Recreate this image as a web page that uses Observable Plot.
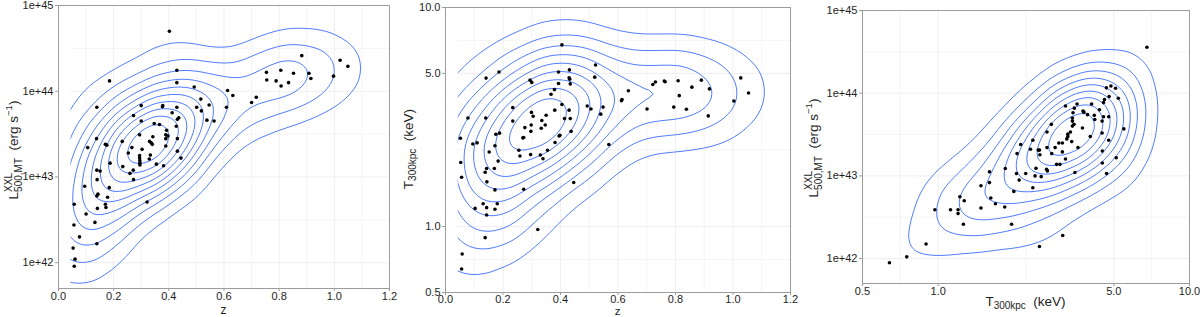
<!DOCTYPE html>
<html>
<head>
<meta charset="utf-8">
<script src="https://cdn.jsdelivr.net/npm/d3@7"></script>
<script src="https://cdn.jsdelivr.net/npm/@observablehq/plot@0.6"></script>
<style>
  body { margin: 0; background: #fff; }
  #row { display: flex; width: 1200px; height: 317px; overflow: hidden; }
  #row svg { display: block; flex: none; }
</style>
</head>
<body>
<div id="row"></div>
<script>
// ---------------- DATA ----------------
// Panel 1: redshift z vs L_500,MT (erg/s)
const p1Z = [0.402,0.882,1.021,1.049,0.429,0.754,0.806,0.852,0.908,0.915,0.755,0.789,0.834,0.807,0.997,0.185,0.429,0.492,0.613,0.632,0.717,0.700,0.516,0.546,0.501,0.518,0.609,0.139,0.300,0.378,0.377,0.429,0.272,0.412,0.436,0.431,0.538,0.564,0.300,0.347,0.366,0.427,0.392,0.138,0.231,0.342,0.294,0.389,0.397,0.431,0.389,0.330,0.336,0.340,0.106,0.170,0.175,0.266,0.389,0.303,0.431,0.253,0.333,0.294,0.444,0.187,0.295,0.295,0.295,0.233,0.355,0.381,0.139,0.151,0.271,0.259,0.140,0.272,0.095,0.184,0.143,0.139,0.178,0.170,0.172,0.141,0.057,0.100,0.132,0.056,0.076,0.321,0.139,0.053,0.060,0.057,0.294,0.329];
const p1L = [5.0e44,2.6e44,2.3e44,1.95e44,1.76e44,1.66e44,1.76e44,1.62e44,1.62e44,1.41e44,1.35e44,1.32e44,1.26e44,1.15e44,1.5e44,1.32e44,1.26e44,1.12e44,1.02e44,8.9e43,8.5e43,7.4e43,8.1e43,6.9e43,6.5e43,5.9e43,6.5e43,6.5e43,6.8e43,6.8e43,6.6e43,6.5e43,5.2e43,5.6e43,4.9e43,4.7e43,4.6e43,4.5e43,4.5e43,4.2e43,4.1e43,3.9e43,3.5e43,2.8e43,2.6e43,2.95e43,3.1e43,3.1e43,3.0e43,2.8e43,2.8e43,2.6e43,2.5e43,2.4e43,2.2e43,2.4e43,2.35e43,2.2e43,2.3e43,2.1e43,2.0e43,1.9e43,1.8e43,1.78e43,1.66e43,1.45e43,1.55e43,1.45e43,1.38e43,1.32e43,1.41e43,1.35e43,1.2e43,1.17e43,1.2e43,1.1e43,9.3e42,9.3e42,7.8e42,7.5e42,6.3e42,6.0e42,5.8e42,4.8e42,4.4e42,4.3e42,4.8e42,3.7e42,2.95e42,2.75e42,2.0e42,5.1e42,1.66e42,1.48e42,1.1e42,9.1e41,1.66e43,1.62e43];

// Panel 2: redshift z vs T_300kpc (keV)
const p2Z = [0.405,0.522,0.186,0.393,0.431,0.141,0.294,0.300,0.430,0.432,0.519,0.393,0.434,0.721,0.730,0.761,0.764,0.809,0.890,1.027,0.857,0.918,1.054,0.813,0.636,0.614,0.612,1.003,0.379,0.367,0.405,0.493,0.506,0.548,0.701,0.794,0.838,0.914,0.234,0.380,0.430,0.299,0.305,0.540,0.078,0.140,0.350,0.414,0.434,0.234,0.335,0.298,0.347,0.333,0.276,0.437,0.297,0.052,0.175,0.188,0.272,0.269,0.398,0.395,0.381,0.095,0.110,0.172,0.568,0.152,0.255,0.355,0.259,0.296,0.330,0.339,0.053,0.183,0.143,0.138,0.170,0.056,0.144,0.446,0.172,0.272,0.131,0.143,0.180,0.172,0.103,0.143,0.321,0.138,0.058,0.056];
const p2T = [6.75,5.46,5.08,5.08,5.19,4.76,4.66,4.55,4.78,4.71,4.81,4.50,4.48,4.45,4.57,4.62,4.58,4.63,4.66,4.77,4.33,4.25,4.07,3.96,4.17,3.80,3.75,3.74,4.22,4.02,3.61,3.55,3.44,3.51,3.44,3.51,3.43,3.20,3.49,3.40,3.40,3.32,3.19,3.26,3.13,3.13,3.22,3.11,3.11,3.03,3.05,2.91,2.91,2.81,2.83,2.72,2.72,2.53,2.64,2.67,2.55,2.54,2.61,2.59,2.42,2.38,2.41,2.34,2.37,2.19,2.23,2.23,2.10,2.13,2.12,2.04,1.96,1.99,1.84,1.77,1.84,1.68,1.60,1.59,1.47,1.48,1.27,1.22,1.27,1.20,1.21,1.13,0.97,0.89,0.75,0.64];

// Panel 3: T_300kpc (keV) vs L_500,MT (erg/s)
const p3T = [6.77,4.67,4.87,5.08,5.21,4.79,4.59,4.55,4.38,4.08,3.77,3.80,4.18,4.20,4.49,4.55,4.77,3.93,3.57,3.48,3.44,3.21,3.42,3.42,3.47,3.42,3.75,2.82,2.71,3.36,3.28,3.28,3.25,3.12,3.40,4.03,4.49,4.77,3.60,3.02,2.92,3.12,2.38,2.13,2.33,2.50,2.53,2.71,2.83,2.54,2.06,3.21,3.05,2.96,4.50,5.48,5.11,4.50,4.68,3.50,2.70,2.72,2.45,2.23,2.05,2.10,2.43,2.57,2.38,1.85,1.60,1.60,1.48,2.00,1.62,1.69,1.84,1.48,1.22,1.27,1.20,1.20,1.12,1.26,0.97,1.96,0.895,0.75,0.64,3.13,2.53];
const p3L = [3.6e44,1.16e44,1.22e44,1.15e44,8.7e43,9.1e43,8.4e43,7.7e43,6.3e43,7.4e43,6.1e43,5.9e43,5.4e43,4.8e43,4.6e43,5.2e43,5.2e43,5.5e43,7.4e43,6.6e43,5.8e43,7.0e43,5.0e43,4.6e43,4.2e43,4.0e43,3.8e43,4.2e43,3.4e43,3.4e43,3.2e43,3.0e43,2.8e43,2.5e43,2.6e43,3.0e43,3.3e43,2.7e43,2.2e43,2.5e43,2.2e43,1.95e43,2.7e43,2.4e43,2.1e43,2.05e43,2.05e43,2.2e43,1.86e43,1.8e43,1.86e43,1.6e43,1.38e43,1.38e43,2.0e43,3.7e43,1.66e43,1.43e43,1.07e43,1.1e43,1.2e43,1.15e43,1.24e43,1.07e43,1.07e43,8.9e42,1.0e43,9.8e42,7.2e42,1.23e43,1.12e43,8.3e42,7.6e42,6.5e42,5.4e42,4.6e42,4.2e42,4.1e42,5.6e42,5.0e42,3.9e42,3.5e42,3.9e42,2.6e42,3.9e42,2.6e42,1.5e42,1.05e42,8.9e41,1.9e42,1.4e42];

// Ticks and tick labels
const zTicks = [0, 0.2, 0.4, 0.6, 0.8, 1.0, 1.2];
const zTickLabels = ["0.0", "0.2", "0.4", "0.6", "0.8", "1.0", "1.2"];
const zMinorGrid = [0.1, 0.3, 0.5, 0.7, 0.9, 1.1];
const lTicks = [1e42, 1e43, 1e44, 1e45];
const lTickLabels = ["1e+42", "1e+43", "1e+44", "1e+45"];
const lMinorGrid = [3.162e42, 3.162e43, 3.162e44];
const tTicks = [0.5, 1, 5, 10];
const tTickLabels = ["0.5", "1.0", "5.0", "10.0"];
const tMinorGrid = [0.707, 2.236, 7.071];

// ---------------- STYLE ----------------
const FONT = "'Liberation Sans', Arial, Helvetica, sans-serif";
const BLUE = "#3366FF";
const GRID = "#efefef";
const FRAME = "#9c9c9c";
const TEXT = "#1e1e1e";

const d1 = p1Z.map((z, i) => ({x: z, y: p1L[i]}));
const d2 = p2Z.map((z, i) => ({x: z, y: p2T[i]}));
const d3p = p3T.map((t, i) => ({x: t, y: p3L[i]}));

function makePanel(cfg) {
  const xt = cfg.xTicks.map((v, i) => ({v, label: cfg.xLabels[i]}));
  const yt = cfg.yTicks.map((v, i) => ({v, label: cfg.yLabels[i]}));
  const marks = [
    Plot.gridX(cfg.xMinor, {stroke: GRID, strokeOpacity: 1, strokeWidth: 0.6}),
    Plot.gridY(cfg.yMinor, {stroke: GRID, strokeOpacity: 1, strokeWidth: 0.6}),
    Plot.gridX(cfg.xTicks, {stroke: GRID, strokeOpacity: 1, strokeWidth: 1}),
    Plot.gridY(cfg.yTicks, {stroke: GRID, strokeOpacity: 1, strokeWidth: 1}),
    Plot.density(cfg.data, {x: "x", y: "y", stroke: BLUE, strokeWidth: 0.85, bandwidth: cfg.bw, thresholds: cfg.th, clip: true})
  ];
  if (cfg.cutLeft) {
    // density estimate limited to the range of the data (left edge)
    marks.push(Plot.rect([0], {x1: cfg.xDomain[0], x2: d3.min(cfg.data, d => d.x) * 0.85, y1: cfg.yDomain[0], y2: cfg.yDomain[1], fill: "#fff"}));
  }
  marks.push(
    Plot.dot(cfg.data, {x: "x", y: "y", r: 1.8, fill: "#000", stroke: null}),
    Plot.frame({stroke: FRAME, strokeWidth: 1}),
    Plot.axisX(cfg.xTicks, {tickSize: 3, stroke: FRAME, text: null, label: null}),
    Plot.axisY(cfg.yTicks, {tickSize: 3, stroke: FRAME, text: null, label: null}),
    Plot.text(xt, {x: "v", text: "label", frameAnchor: "bottom", lineAnchor: "top", dy: cfg.xdy, fill: TEXT, fontSize: 11}),
    Plot.text(yt, {y: "v", text: "label", frameAnchor: "left", textAnchor: "end", dx: -5, fill: TEXT, fontSize: 11})
  );
  return Plot.plot({
    width: 400,
    height: 317,
    marginLeft: cfg.ml, marginRight: cfg.mr, marginTop: cfg.mt, marginBottom: cfg.mb,
    style: {fontFamily: FONT, fontSize: "11px", color: TEXT, background: "#fff", overflow: "visible"},
    x: {type: cfg.xType, domain: cfg.xDomain, label: null},
    y: {type: cfg.yType, domain: cfg.yDomain, label: null},
    marks
  });
}

// rich text label: segments laid out in a row; "stack" segments start at previous segment's x
function richLabel(svg, x, y, rotate, segs) {
  const g = d3.select(svg).append("g")
    .attr("transform", `translate(${x},${y}) rotate(${rotate})`)
    .attr("font-family", FONT).attr("fill", TEXT).attr("text-anchor", "start");
  const nodes = segs.map(s => g.append("text").attr("font-size", s.size).attr("y", s.dy || 0)
    .attr("text-anchor", "start").style("white-space", "pre").text(s.t));
  let pos = 0, prevStart = 0;
  segs.forEach((s, i) => {
    const w = nodes[i].node().getComputedTextLength();
    const start = s.stack ? prevStart : pos;
    nodes[i].attr("x", start);
    if (!s.stack) prevStart = start;
    pos = Math.max(pos, start + w);
  });
  nodes.forEach(n => n.attr("x", +n.attr("x") - pos / 2));
}

const row = document.getElementById("row");

const s1 = makePanel({
  data: d1, ml: 58, mr: 11, mt: 5, mb: 29, cutLeft: true, xdy: 4,
  xType: "linear", xDomain: [0, 1.2], xTicks: zTicks, xLabels: zTickLabels, xMinor: zMinorGrid,
  yType: "log", yDomain: [5e41, 1e45], yTicks: lTicks, yLabels: lTickLabels, yMinor: lMinorGrid,
  bw: 26, th: 11
});
row.appendChild(s1);

const s2 = makePanel({
  data: d2, ml: 45, mr: 10, mt: 7, mb: 25, cutLeft: true, xdy: 3,
  xType: "linear", xDomain: [0, 1.2], xTicks: zTicks, xLabels: zTickLabels, xMinor: zMinorGrid,
  yType: "log", yDomain: [0.5, 10], yTicks: tTicks, yLabels: tTickLabels, yMinor: tMinorGrid,
  bw: 30, th: 10
});
row.appendChild(s2);

const s3 = makePanel({
  data: d3p, ml: 62, mr: 11, mt: 10, mb: 34, cutLeft: false, xdy: 4,
  xType: "log", xDomain: [0.5, 10], xTicks: tTicks, xLabels: tTickLabels, xMinor: tMinorGrid,
  yType: "log", yDomain: [5e41, 1e45], yTicks: lTicks, yLabels: lTickLabels, yMinor: lMinorGrid,
  bw: 26, th: 10
});
row.appendChild(s3);

const lumSegs = [
  {t: "L", size: 13.5},
  {t: "XXL", size: 10, dy: -6.5},
  {t: "500,MT", size: 10, dy: 3.5, stack: true},
  {t: "  (erg s", size: 13.5},
  {t: "−1", size: 9.5, dy: -6},
  {t: ")", size: 13.5}
];
const tempSegs = [
  {t: "T", size: 13.5},
  {t: "300kpc", size: 10, dy: 3},
  {t: "  (keV)", size: 13.5}
];

richLabel(s1, 18, 150, -90, lumSegs);
richLabel(s1, 223.5, 314.3, 0, [{t: "z", size: 12}]);
richLabel(s2, 13, 149, -90, tempSegs);
richLabel(s2, 217.5, 314.5, 0, [{t: "z", size: 11.5}]);
richLabel(s3, 18, 148, -90, lumSegs);
richLabel(s3, 225.5, 306, 0, tempSegs);
</script>
</body>
</html>
